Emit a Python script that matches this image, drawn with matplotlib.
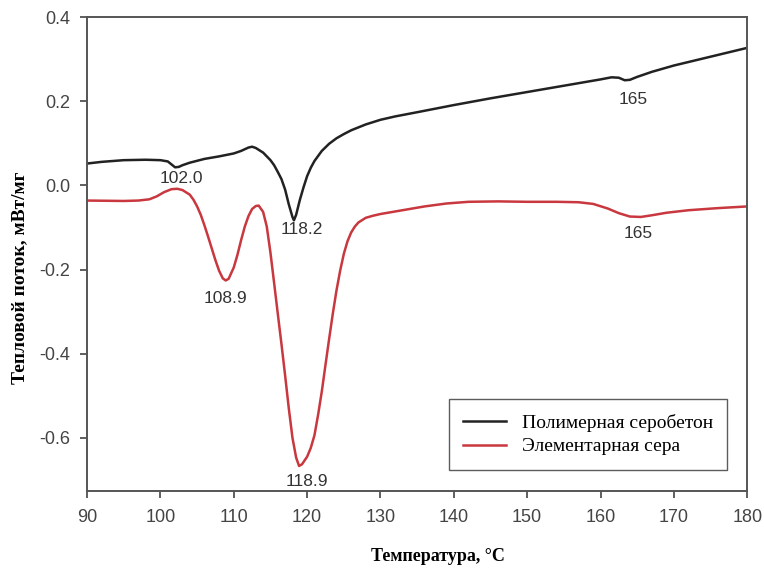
import matplotlib.pyplot as plt

# DSC curves
temp_polymer = [90, 92, 95, 98, 100, 101, 101.5, 102, 102.5, 103, 104, 106, 108, 110, 111, 112,
                112.5, 113, 114, 115, 115.5, 116, 116.5, 117, 117.5, 118, 118.2, 118.5, 119, 119.5,
                120, 120.5, 121, 122, 123, 124, 125, 126, 128, 130, 132, 135, 140, 145, 150, 155,
                160, 161.5, 162.5, 163.3, 164, 165, 167, 170, 175, 180]
flow_polymer = [0.052, 0.056, 0.060, 0.061, 0.060, 0.057, 0.050, 0.043, 0.044, 0.048, 0.054, 0.063,
                0.069, 0.076, 0.082, 0.090, 0.092, 0.089, 0.078, 0.060, 0.048, 0.032, 0.015, -0.010,
                -0.045, -0.075, -0.083, -0.070, -0.035, -0.005, 0.022, 0.042, 0.058, 0.082, 0.099,
                0.112, 0.122, 0.131, 0.145, 0.156, 0.164, 0.174, 0.191, 0.207, 0.222, 0.237, 0.252,
                0.257, 0.256, 0.250, 0.251, 0.258, 0.270, 0.285, 0.306, 0.327]

temp_sulfur = [90, 95, 97, 98.5, 99.5, 100.5, 101.5, 102.3, 103, 104, 104.5, 105, 105.5, 106, 106.5,
               107, 107.5, 108, 108.5, 108.9, 109.3, 110, 110.5, 111, 111.5, 112, 112.5, 113, 113.4,
               114, 114.5, 115, 115.5, 116, 116.5, 117, 117.5, 118, 118.5, 118.9, 119.3, 120, 120.5,
               121, 121.5, 122, 122.5, 123, 123.5, 124, 124.5, 125, 125.5, 126, 126.5, 127, 128, 129,
               130, 132, 134, 136, 139, 142, 146, 150, 154, 157, 159, 161, 162.5, 164, 165.5, 167,
               169, 172, 176, 180]
flow_sulfur = [-0.036, -0.037, -0.036, -0.033, -0.026, -0.016, -0.009, -0.008, -0.011, -0.022, -0.034,
               -0.050, -0.070, -0.095, -0.122, -0.150, -0.178, -0.203, -0.221, -0.226, -0.222, -0.195,
               -0.165, -0.130, -0.098, -0.073, -0.056, -0.049, -0.048, -0.063, -0.098, -0.160, -0.232,
               -0.305, -0.377, -0.452, -0.530, -0.600, -0.647, -0.667, -0.663, -0.645, -0.624, -0.594,
               -0.545, -0.490, -0.427, -0.365, -0.305, -0.250, -0.203, -0.163, -0.133, -0.112, -0.098,
               -0.088, -0.077, -0.072, -0.068, -0.062, -0.056, -0.050, -0.043, -0.039, -0.038, -0.039,
               -0.039, -0.040, -0.044, -0.055, -0.066, -0.074, -0.075, -0.071, -0.065, -0.059, -0.054,
               -0.050]

# peak labels: text, x, y
peaks = [("102.0", 102.9, 0.017), ("118.2", 119.3, -0.105), ("165", 164.5, 0.205),
         ("108.9", 108.9, -0.27), ("118.9", 119.9, -0.705), ("165", 165.2, -0.115)]

fig = plt.figure(figsize=(7.64, 5.72), dpi=100)
ax = fig.add_axes([0.114, 0.142, 0.864, 0.828])

ax.plot(temp_polymer, flow_polymer, color='#222222', lw=1.8, label='Полимерная серобетон')
ax.plot(temp_sulfur, flow_sulfur, color='#c8383e', lw=1.8, label='Элементарная сера')

for txt, x, y in peaks:
    ax.text(x, y, txt, ha='center', va='center', fontsize=12.5, color='#333333',
            family='Liberation Sans')

ax.set_xlim(90, 180)
ax.set_ylim(-0.726, 0.4)
ax.set_xticks(range(90, 181, 10))
ax.set_yticks([-0.6, -0.4, -0.2, 0.0, 0.2, 0.4])
ax.set_yticklabels(['-0.6', '-0.4', '-0.2', '0.0', '0.2', '0.4'])
ax.tick_params(direction='out', length=5, width=1.2, labelsize=13, colors='#444444',
               top=False, right=False)
ax.tick_params(axis='x', pad=8)
ax.tick_params(axis='y', pad=7)
for lab in ax.get_xticklabels() + ax.get_yticklabels():
    lab.set_family('Liberation Sans')
for sp in ax.spines.values():
    sp.set_color('#555555')
    sp.set_linewidth(1.4)

ax.set_xlabel('Температура, °С', family='Liberation Serif', fontweight='bold', fontsize=13)
ax.set_ylabel('Тепловой поток, мВт/мг', family='Liberation Serif', fontweight='bold', fontsize=14)
ax.xaxis.set_label_coords(0.532, -0.12)
ax.yaxis.set_label_coords(-0.089, 0.45)

leg = ax.legend(loc='lower right', bbox_to_anchor=(0.97, 0.044), borderaxespad=0,
                fancybox=False, prop={'family': 'Liberation Serif', 'size': 14},
                handlelength=2.2, borderpad=0.75, labelspacing=0.3, edgecolor='#333333')
leg.get_frame().set_linewidth(1.0)

fig.savefig('out.png', dpi=100)
